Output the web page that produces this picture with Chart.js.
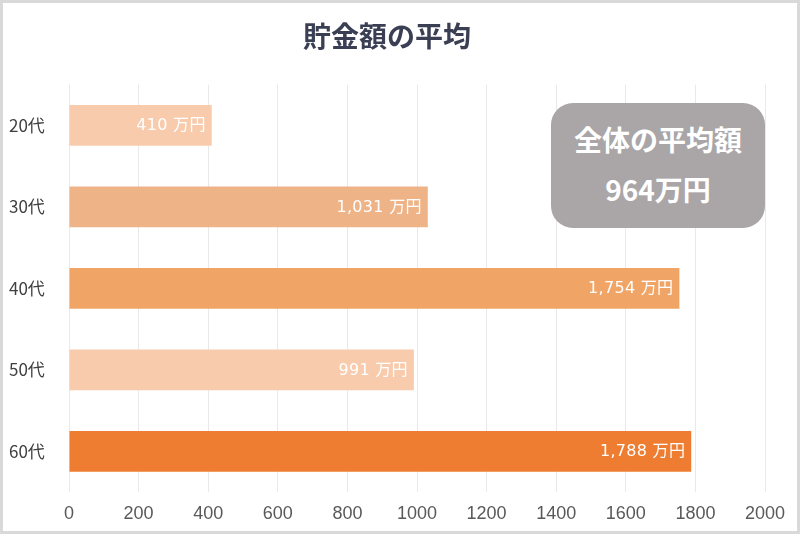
<!DOCTYPE html>
<html>
<head>
<meta charset="utf-8">
<script src="https://cdn.jsdelivr.net/npm/chart.js@4"></script>
<style>
  html, body { margin: 0; padding: 0; background: #fff; }
  #wrap { position: relative; width: 800px; height: 534px; }
  #avgBox {
    position: absolute; left: 551px; top: 103px; width: 214px; height: 125px;
    background: #aaa6a7; border-radius: 22px; color: #fff;
    font-family: "Noto Sans CJK JP", sans-serif; font-weight: bold;
    text-align: center; font-size: 28px; line-height: 50px; padding-top: 11px; box-sizing: border-box;
  }
</style>
</head>
<body>
<div id="wrap">
  <canvas id="c" width="800" height="534"></canvas>
  <div id="avgBox"><div id="avgLabel"></div><div id="avgValue"></div></div>
</div>
<script>
const categories = ['20代', '30代', '40代', '50代', '60代'];
const savings = [410, 1031, 1754, 991, 1788];
const barColors = ['#f8cbad', '#efb388', '#f0a465', '#f8cbad', '#ee7d31'];
const xTicks = [0, 200, 400, 600, 800, 1000, 1200, 1400, 1600, 1800, 2000];
const averageLabel = '全体の平均額';
const averageValue = 964;
const unit = '万円';

document.getElementById('avgLabel').textContent = averageLabel;
document.getElementById('avgValue').textContent = averageValue + unit;

const frame = {
  id: 'frame',
  beforeDraw(chart) {
    const ctx = chart.ctx;
    ctx.save();
    ctx.fillStyle = '#fff';
    ctx.fillRect(0, 0, chart.width, chart.height);
    ctx.restore();
  },
  afterDraw(chart) {
    const ctx = chart.ctx;
    ctx.save();
    ctx.strokeStyle = '#d9d9d9';
    ctx.lineWidth = 3;
    ctx.strokeRect(1.5, 1.5, chart.width - 3, chart.height - 3);
    ctx.restore();
  }
};

const barLabels = {
  id: 'barLabels',
  afterDatasetsDraw(chart) {
    const ctx = chart.ctx;
    const meta = chart.getDatasetMeta(0);
    ctx.save();
    ctx.fillStyle = '#fff';
    ctx.font = '16px "DejaVu Sans", "Noto Sans CJK JP", sans-serif';
    ctx.letterSpacing = '0.3px';
    ctx.textAlign = 'right';
    ctx.textBaseline = 'middle';
    meta.data.forEach((bar, i) => {
      const txt = savings[i].toLocaleString('en-US') + ' ' + unit;
      ctx.fillText(txt, bar.x - 6, bar.y + 1);
    });
    ctx.restore();
  }
};

new Chart(document.getElementById('c'), {
  type: 'bar',
  data: {
    labels: categories,
    datasets: [{
      data: savings,
      backgroundColor: barColors,
      borderWidth: 0,
      categoryPercentage: 1,
      barPercentage: 0.5
    }]
  },
  options: {
    indexAxis: 'y',
    responsive: false,
    animation: false,
    layout: { padding: { left: 9, right: 35, bottom: 8 } },
    plugins: {
      legend: { display: false },
      tooltip: { enabled: false },
      title: {
        display: true,
        text: '貯金額の平均',
        color: '#3b3f54',
        font: { family: '"Noto Sans CJK JP", sans-serif', size: 28, weight: 'bold' },
        padding: { top: 20, bottom: 31 }
      }
    },
    scales: {
      x: {
        min: 0, max: 2000,
        afterBuildTicks(scale) { scale.ticks = xTicks.map(v => ({ value: v })); },
        grid: { color: '#e9e9e9', drawTicks: false },
        border: { display: false },
        ticks: {
          color: '#595959', padding: 11,
          callback: v => String(v),
          font: { family: '"Liberation Sans Narrow", "Liberation Sans", sans-serif', size: 18 }
        },
        afterFit(scale) { scale.height = 34; }
      },
      y: {
        grid: { display: false },
        border: { display: false },
        ticks: {
          color: '#404040', padding: 0, crossAlign: 'far',
          font: { family: '"Noto Sans CJK JP", sans-serif', size: 17 }
        },
        afterFit(scale) { scale.width = 60; }
      }
    }
  },
  plugins: [frame, barLabels]
});
</script>
</body>
</html>
